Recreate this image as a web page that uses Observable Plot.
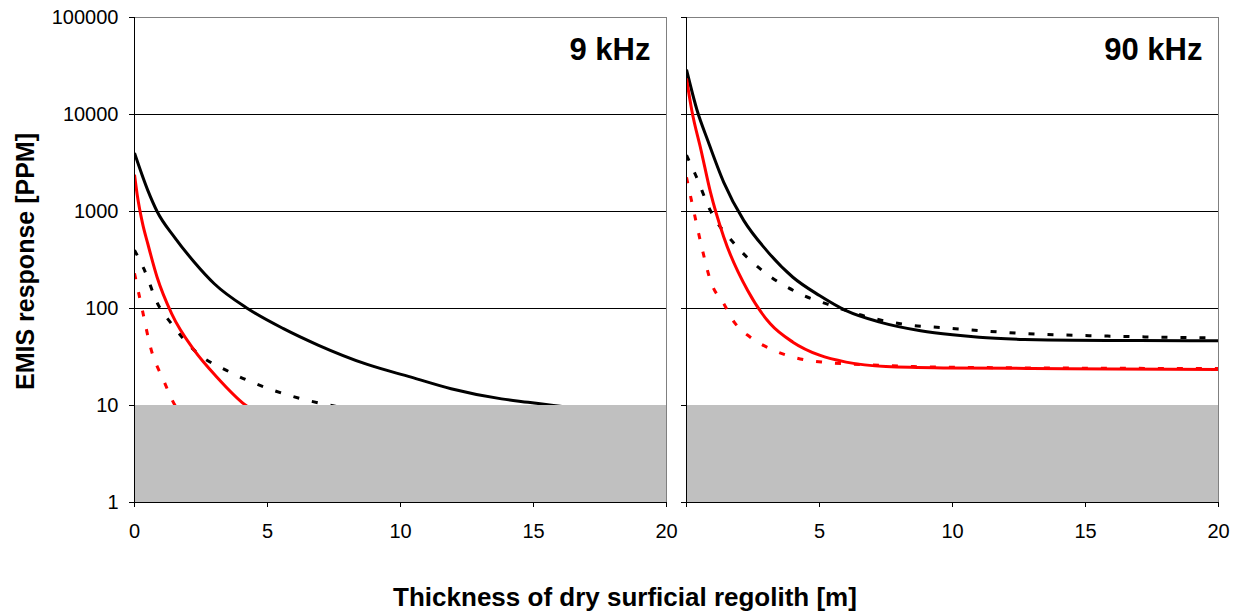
<!DOCTYPE html>
<html>
<head>
<meta charset="utf-8">
<script src="https://cdn.jsdelivr.net/npm/d3@7"></script>
<script src="https://cdn.jsdelivr.net/npm/@observablehq/plot@0.6"></script>
<style>
  html, body { margin: 0; padding: 0; background: #fff; }
  #chart { position: relative; width: 1238px; height: 613px; font-family: Arial, "Liberation Sans", sans-serif; color: #000; }
  #chart svg { position: absolute; top: 0; }
  .xlabel { position: absolute; left: 0; top: 584px; width: 1250px; text-align: center; font-size: 26px; line-height: 26px; font-weight: bold; }
  .ylabel { position: absolute; left: -175px; top: 248.5px; width: 400px; height: 25px; text-align: center; font-size: 25px; line-height: 25px; font-weight: bold; transform: rotate(-90deg); white-space: nowrap; }
</style>
</head>
<body>
<div id="chart">
  <div class="ylabel">EMIS response [PPM]</div>
  <div class="xlabel">Thickness of dry surficial regolith [m]</div>
</div>
<script>
// ---- data ----
const panelTitles = ["9 kHz", "90 kHz"];
const xTicks = [0, 5, 10, 15, 20];
const yTicks = [1, 10, 100, 1000, 10000, 100000];
const gridValues = [100, 1000, 10000];
const xDomain = [0, 20];
const yDomain = [1, 100000];
const noiseFloor = [{x1: 0, x2: 20, y1: 1, y2: 10}];

// 9 kHz
const k9BlackSolidX = [0, 0.5, 0.85, 1.5, 2.25, 3, 4.25, 5.6, 6.9, 8.75, 10.4, 11.9, 13.8, 14.8, 15.75, 18, 20];
const k9BlackSolidY = [4000, 1650, 1000, 545, 300, 180, 100, 62, 42, 26.5, 19.6, 14.9, 11.7, 10.8, 10, 8.5, 7.3];
const k9BlackDotX = [0, 0.35, 0.9, 1.35, 2.3, 3.6, 5.05, 6.5, 7.25, 10, 15, 20];
const k9BlackDotY = [400, 257, 108, 72, 36, 22, 14.9, 11.3, 10.2, 7.5, 4.8, 3.2];
const k9RedSolidX = [0, 0.1, 0.3, 0.5, 0.85, 1.4, 2.25, 3.1, 4.15, 6, 10, 15, 20];
const k9RedSolidY = [2400, 1500, 760, 465, 210, 88, 37, 19.6, 10.2, 6.5, 4.2, 3.1, 2.5];
const k9RedDotX = [0, 0.3, 0.6, 1.1, 1.5, 3, 6, 10, 20];
const k9RedDotY = [230, 95, 40, 18, 10.3, 4.5, 2.8, 2, 1.5];

// 90 kHz
const k90BlackSolidX = [0, 0.4, 0.8, 1.4, 2.15, 3, 4, 5, 6, 7.3, 8.8, 10, 11, 12.7, 14.5, 17, 20];
const k90BlackSolidY = [29000, 11000, 5400, 2000, 810, 400, 210, 136, 95, 72, 59, 53.5, 50.5, 48, 47, 46.8, 46.5];
const k90BlackDotX = [0, 0.35, 0.9, 1.8, 2.85, 4.15, 5.55, 6.95, 8.3, 9.75, 12.5, 16, 20];
const k90BlackDotY = [3800, 2350, 1020, 465, 246, 147, 105, 80, 68, 63, 55.6, 51.8, 49.8];
const k90RedSolidX = [0, 0.2, 0.55, 0.9, 1.4, 2.3, 3.15, 4, 5, 6, 7.5, 9.8, 13, 16, 20];
const k90RedSolidY = [23500, 11000, 4250, 1580, 545, 153, 69.5, 45, 33, 28, 25.2, 24.4, 24.1, 23.8, 23.5];
const k90RedDotX = [0, 0.27, 0.6, 0.9, 1.4, 1.8, 2.4, 3.15, 4, 5.15, 6.55, 8.55, 12, 16, 20];
const k90RedDotY = [2250, 1020, 400, 194, 112, 72, 50.6, 38.4, 31.5, 27.9, 26.5, 25.2, 24.5, 24.2, 24];

// ---- build ----
const zip = (xs, ys) => xs.map((x, i) => ({x, y: ys[i]}));
const seriesStyles = [
  {color: "#000000", dash: null},
  {color: "#000000", dash: "6,13"},
  {color: "#ff0000", dash: null},
  {color: "#ff0000", dash: "6,13"}
];
const panels = [
  {title: panelTitles[0], series: [zip(k9BlackSolidX, k9BlackSolidY), zip(k9BlackDotX, k9BlackDotY), zip(k9RedSolidX, k9RedSolidY), zip(k9RedDotX, k9RedDotY)]},
  {title: panelTitles[1], series: [zip(k90BlackSolidX, k90BlackSolidY), zip(k90BlackDotX, k90BlackDotY), zip(k90RedSolidX, k90RedSolidY), zip(k90RedDotX, k90RedDotY)]}
];

function makePanel(panel, isLeft) {
  const lineMarks = panel.series.map((data, i) => Plot.line(data, {
    x: "x", y: "y", curve: "monotone-x",
    stroke: seriesStyles[i].color, strokeWidth: 3,
    strokeDasharray: seriesStyles[i].dash, strokeLinecap: "butt", clip: true
  }));
  return Plot.plot({
    width: isLeft ? 676 : 552,
    height: 540,
    marginLeft: isLeft ? 134 : 10,
    marginRight: 10,
    marginTop: 17,
    marginBottom: 38,
    style: {fontFamily: 'Arial, "Liberation Sans", sans-serif', fontSize: "20px", color: "#000", background: "transparent", overflow: "visible"},
    x: {domain: xDomain},
    y: {type: "log", domain: yDomain},
    marks: [
      Plot.ruleY(gridValues, {stroke: "#000", strokeWidth: 1}),
      ...lineMarks,
      Plot.rect(noiseFloor, {x1: "x1", x2: "x2", y1: "y1", y2: "y2", fill: "#c0c0c0"}),
      Plot.frame({stroke: "#808080"}),
      Plot.ruleX([xDomain[0]], {stroke: "#000"}),
      Plot.ruleY([yDomain[0]], {stroke: "#000"}),
      Plot.axisY({ticks: yTicks, tickSize: 5, tickPadding: 11, label: null,
        tickFormat: isLeft ? (d => String(d)) : (() => ""), fontSize: 20}),
      Plot.axisX({ticks: xTicks, tickSize: 5, tickPadding: 16, label: null,
        tickFormat: isLeft ? (d => String(d)) : (d => d === xDomain[0] ? "" : String(d)), fontSize: 20}),
      Plot.text([panel.title], {text: d => d, frameAnchor: "top-right", dx: -16, dy: 20,
        lineAnchor: "top", textAnchor: "end", fontSize: 31, fontWeight: "bold", fill: "#000"})
    ]
  });
}

const chart = document.getElementById("chart");
const left = makePanel(panels[0], true);
left.style.left = "0px";
const right = makePanel(panels[1], false);
right.style.left = "676px";
chart.appendChild(left);
chart.appendChild(right);
</script>
</body>
</html>
